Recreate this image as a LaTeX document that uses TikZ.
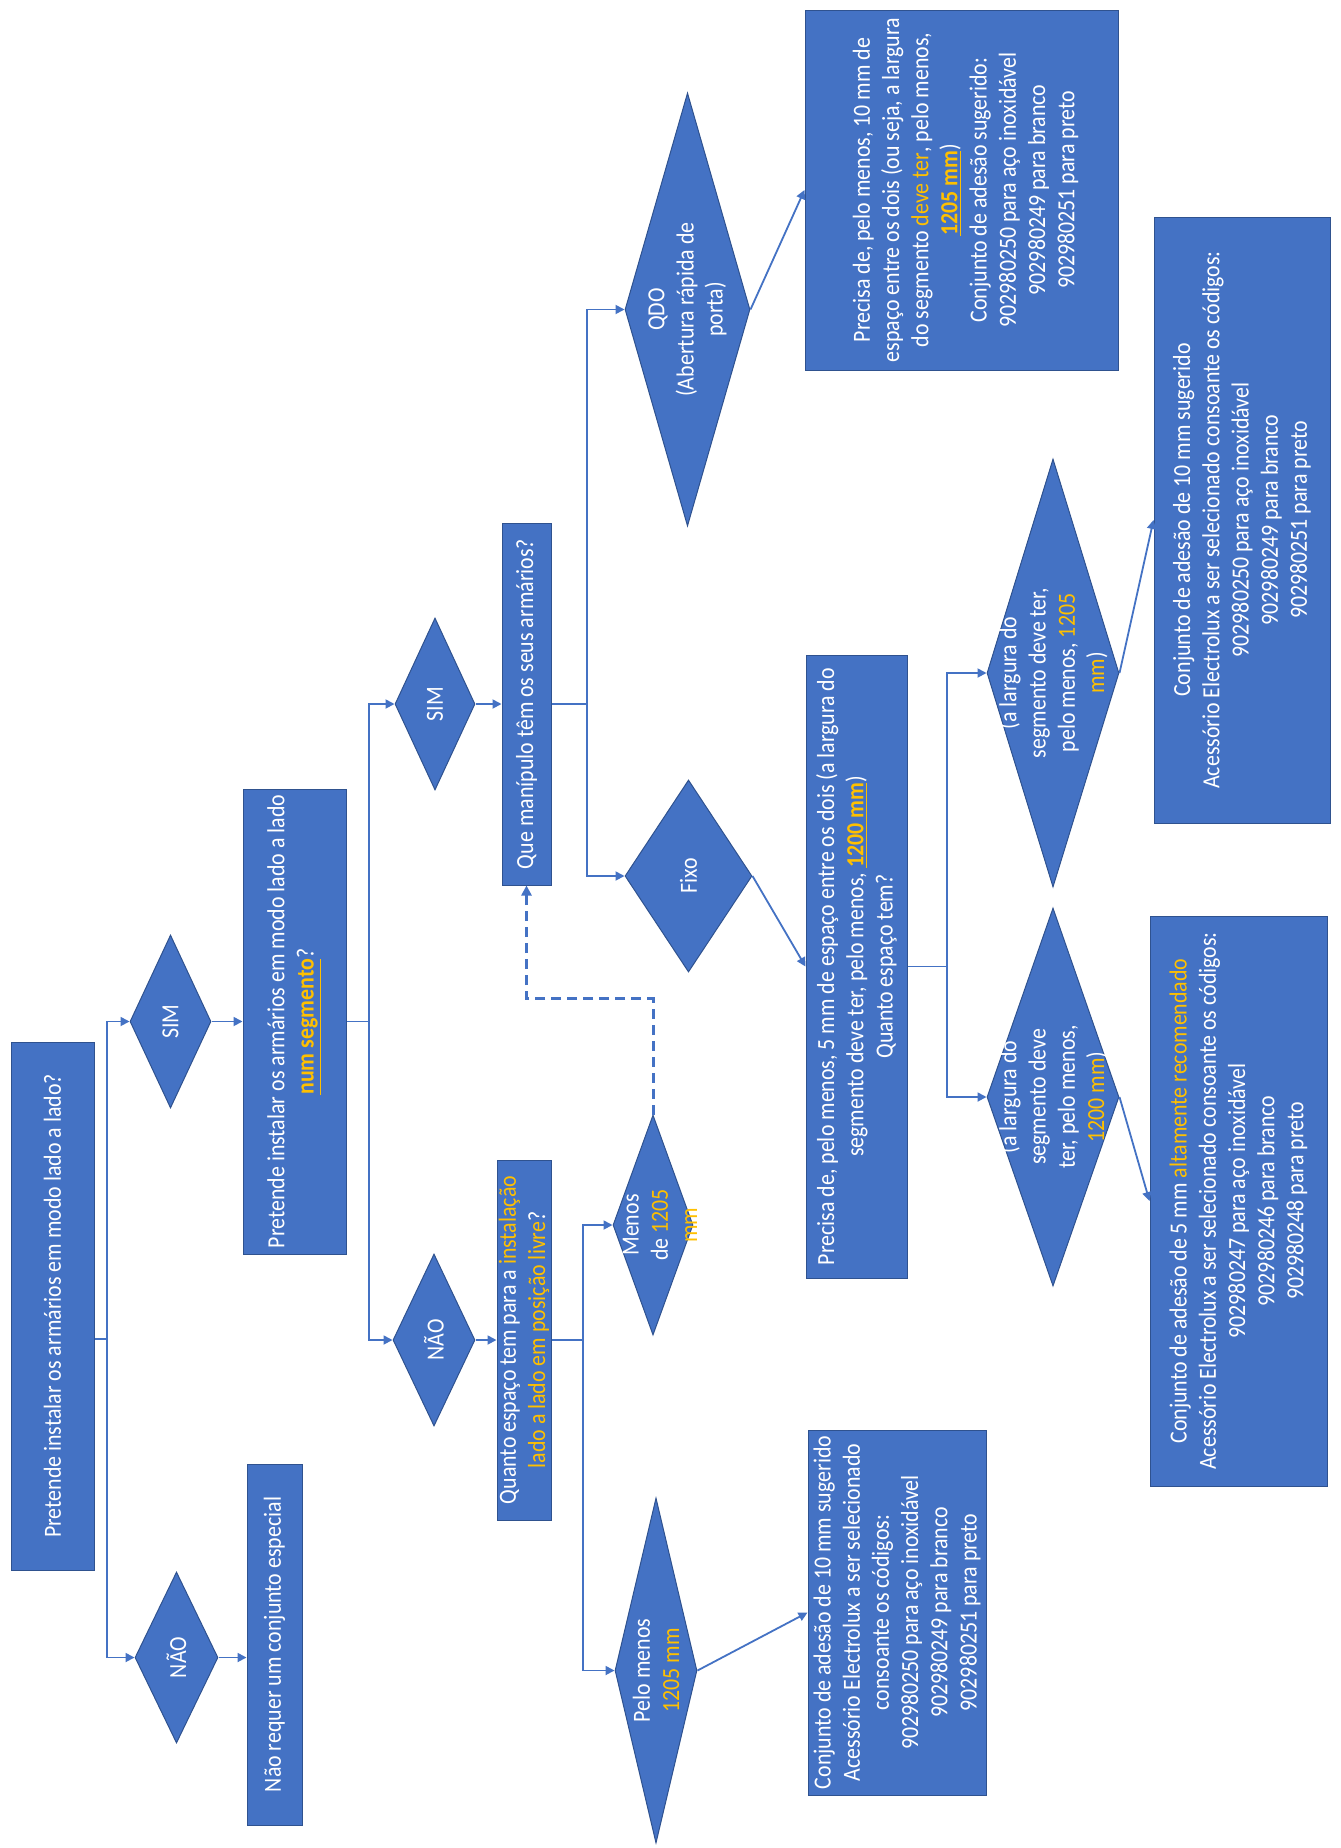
\documentclass[tikz,border=0pt]{standalone}
\usepackage{fontspec}
\setmainfont{Carlito}[FakeStretch=0.89]
\usetikzlibrary{shapes.geometric,arrows.meta,calc}
\definecolor{ofblue}{HTML}{4472C4}
\definecolor{bdr}{HTML}{2F528F}
\definecolor{lnc}{HTML}{4472C4}
\definecolor{ofyel}{HTML}{FFC000}
\newcommand{\yel}[1]{\textcolor{ofyel}{#1}}
\newcommand{\ybu}[1]{\textcolor{ofyel}{\textbf{\underline{#1}}}}
\begin{document}
\begin{tikzpicture}[x=0.5pt,y=0.5pt,
  box/.style={rectangle,draw=bdr,fill=ofblue,line width=0.5pt,inner sep=0pt},
  dia/.style={diamond,draw=bdr,fill=ofblue,line width=0.5pt,inner sep=0pt},
  lbl/.style={rotate=90,align=center,text=white,inner sep=0pt,font=\fontsize{12.3pt}{14.6pt}\selectfont},
  conn/.style={draw=lnc,line width=0.9pt},
  arr/.style={conn,-{Triangle[length=4.5pt,width=4.5pt]}},
  dsh/.style={draw=lnc,line width=1.5pt,dash pattern=on 5pt off 3pt,-{Triangle[length=5pt,width=5pt]}}]
\fill[white] (0,0) rectangle (1340,-1848);
\useasboundingbox (0,0) rectangle (1340,-1848);

% shapes
\node[box,minimum width=41.5pt,minimum height=264pt] (A) at (52.5,-1306) {};
\node[dia,minimum width=40.5pt,minimum height=86.5pt] (sim1) at (170.5,-1021.5) {};
\node[dia,minimum width=41.5pt,minimum height=85.5pt] (nao1) at (176.5,-1657.5) {};
\node[box,minimum width=51.5pt,minimum height=232.5pt] (B) at (294.5,-1021.5) {};
\node[box,minimum width=27.5pt,minimum height=180.5pt] (N) at (274.5,-1644.5) {};
\node[dia,minimum width=40pt,minimum height=86pt] (sim2) at (435,-704) {};
\node[dia,minimum width=41pt,minimum height=86pt] (nao2) at (434,-1340) {};
\node[box,minimum width=24.5pt,minimum height=181pt] (Q) at (526.5,-704) {};
\node[box,minimum width=27pt,minimum height=180pt] (K) at (524,-1340) {};
\node[dia,minimum width=62.5pt,minimum height=216.5pt] (qdo) at (687.5,-309.5) {};
\node[dia,minimum width=63.5pt,minimum height=96pt] (fixo) at (688.5,-876) {};
\node[dia,minimum width=40pt,minimum height=110pt] (menos) at (653,-1225) {};
\node[dia,minimum width=41pt,minimum height=172.5pt] (pelo) at (656,-1670.5) {};
\node[box,minimum width=156.5pt,minimum height=180pt] (QB) at (961.5,-190) {};
\node[box,minimum width=50.5pt,minimum height=311.5pt] (C) at (856.5,-966.5) {};
\node[box,minimum width=89pt,minimum height=182.5pt] (L) at (897,-1612.5) {};
\node[dia,minimum width=66pt,minimum height=214pt] (d1205) at (1053,-673) {};
\node[dia,minimum width=66pt,minimum height=189pt] (d1200) at (1053,-1097) {};
\node[box,minimum width=88pt,minimum height=303pt] (R1) at (1242,-520) {};
\node[box,minimum width=88.5pt,minimum height=285pt] (R2) at (1238.5,-1201) {};

% connectors
\coordinate (jA) at (107,-1339);
\draw[conn] (A.east |- jA) -- (jA);
\draw[arr] (jA) |- (sim1.west);
\draw[arr] (jA) |- (nao1.west);
\draw[arr] (sim1.east) -- (sim1.east -| B.west);
\draw[arr] (nao1.east) -- (nao1.east -| N.west);
\coordinate (jB) at (369,-1021.5);
\draw[conn] (B.east) -- (jB);
\draw[arr] (jB) |- (sim2.west);
\draw[arr] (jB) |- (nao2.west);
\draw[arr] (sim2.east) -- (sim2.east -| Q.west);
\draw[arr] (nao2.east) -- (nao2.east -| K.west);
\coordinate (jQ) at (587,-704);
\draw[conn] (Q.east) -- (jQ);
\draw[arr] (jQ) |- (qdo.west);
\draw[arr] (jQ) |- (fixo.west);
\coordinate (jK) at (583,-1340);
\draw[conn] (K.east) -- (jK);
\draw[arr] (jK) |- (menos.west);
\draw[arr] (jK) |- (pelo.west);
\draw[arr] (qdo.east) -- (QB.west);
\draw[arr] (fixo.east) -- (C.west);
\draw[dsh] (menos.north) -- ++(0,116) -| (Q.south);
\draw[arr] (pelo.east) -- (L.west);
\coordinate (jC) at (947,-966.5);
\draw[conn] (C.east) -- (jC);
\draw[arr] (jC) |- (d1205.west);
\draw[arr] (jC) |- (d1200.west);
\draw[arr] (d1205.east) -- (R1.west);
\draw[arr] (d1200.east) -- (R2.west);

% texts
\node[lbl] (tA) at (A) {Pretende instalar os armários em modo lado a lado?};
\node[lbl] (tsim1) at (sim1) {SIM};
\node[lbl] (tnao1) at (nao1) {NÃO};
\node[lbl] (tB) at (B) {Pretende instalar os armários em modo lado a lado\\ \ybu{num segmento}?};
\node[lbl] (tN) at (N) {Não requer um conjunto especial};
\node[lbl] (tsim2) at (sim2) {SIM};
\node[lbl] (tnao2) at (nao2) {NÃO};
\node[lbl] (tQ) at (Q) {Que manípulo têm os seus armários?};
\node[lbl] (tK) at (K) {Quanto espaço tem para a \yel{instalação}\\ \yel{lado a lado em posição livre}?};
\node[lbl] (tqdo) at (qdo) {QDO\\(Abertura rápida de\\porta)};
\node[lbl] (tfixo) at (fixo) {Fixo};
\node[lbl] (tmenos) at ($(menos)+(7,0)$) {Menos\\de \yel{1205}\\\yel{mm}};
\node[lbl] (tpelo) at (pelo) {Pelo menos\\\yel{1205 mm}};
\node[lbl] (tQB) at ($(QB)+(4,0)$) {Precisa de, pelo menos, 10 mm de\\espaço entre os dois (ou seja, a largura\\do segmento \yel{deve ter}, pelo menos,\\\ybu{1205 mm})\\Conjunto de adesão sugerido:\\902980250 para aço inoxidável\\902980249 para branco\\902980251 para preto};
\node[lbl] (tC) at (C) {Precisa de, pelo menos, 5 mm de espaço entre os dois (a largura do\\segmento deve ter, pelo menos, \ybu{1200 mm})\\Quanto espaço tem?};
\node[lbl] (tL) at (L) {Conjunto de adesão de 10 mm sugerido\\Acessório Electrolux a ser selecionado\\consoante os códigos:\\902980250 para aço inoxidável\\902980249 para branco\\902980251 para preto};
\node[lbl] (td1205) at (d1205) {(a largura do\\segmento deve ter,\\pelo menos, \yel{1205}\\\yel{mm})};
\node[lbl] (td1200) at (d1200) {(a largura do\\segmento deve\\ter, pelo menos,\\\yel{1200 mm})};
\node[lbl] (tR1) at (R1) {Conjunto de adesão de 10 mm sugerido\\Acessório Electrolux a ser selecionado consoante os códigos:\\902980250 para aço inoxidável\\902980249 para branco\\902980251 para preto};
\node[lbl] (tR2) at (R2) {Conjunto de adesão de 5 mm \yel{altamente recomendado}\\Acessório Electrolux a ser selecionado consoante os códigos:\\902980247 para aço inoxidável\\902980246 para branco\\902980248 para preto};
\end{tikzpicture}
\end{document}
